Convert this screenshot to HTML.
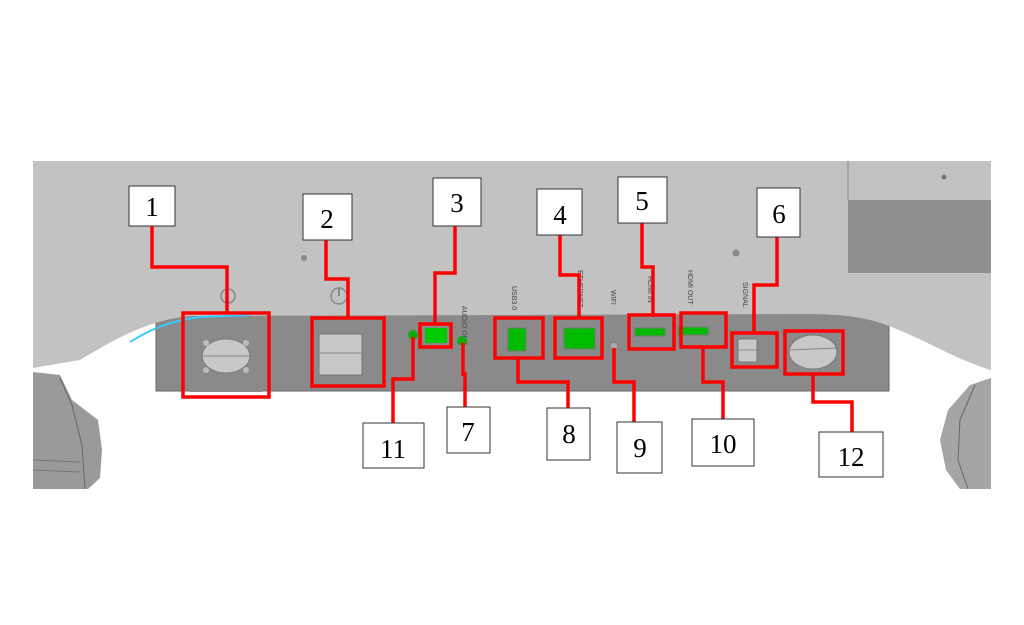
<!DOCTYPE html>
<html><head><meta charset="utf-8"><style>
html,body{margin:0;padding:0;background:#fff;width:1024px;height:625px;overflow:hidden}
svg{display:block}
.n{font-family:"Liberation Serif",serif;font-size:27px;fill:#000;text-anchor:middle}
.s{font-family:"Liberation Sans",sans-serif;font-size:7px;fill:#444}
.lb{fill:#fff;stroke:#333;stroke-width:1}
.r{fill:none;stroke:#f00;stroke-width:3.5}
</style></head><body>
<svg width="1024" height="625" viewBox="0 0 1024 625">
<!-- wheels -->
<path d="M33,372 L60,375 L72,400 L98,420 L102,450 L100,478 L88,489 L33,489 Z" fill="#9a9a9a"/>
<path d="M60,378 L72,405 L82,445 L85,489" fill="none" stroke="#666" stroke-width="1"/>
<path d="M33,460 L80,462 M33,470 L80,472" stroke="#777" stroke-width="1"/>
<path d="M991,378 L970,385 L948,410 L940,440 L946,470 L960,489 L991,489 Z" fill="#a5a5a5"/>
<path d="M975,385 L960,420 L958,460 L968,489" fill="none" stroke="#666"/>
<!-- panel -->
<rect x="156" y="312" width="733" height="79" fill="#8a8a8a" stroke="#666"/>
<!-- body -->
<path d="M33,161 H991 V370 C950,358 910,330 870,320 C850,315 830,314 800,314 L190,316 C150,320 120,336 80,360 L33,368 Z" fill="#c2c2c2"/>
<path d="M130,342 C150,330 165,322 200,317 L250,315" fill="none" stroke="#3cf" stroke-width="2"/>
<!-- top right dark block -->
<rect x="848" y="200" width="143" height="73" fill="#8f8f8f"/>
<line x1="848" y1="161" x2="848" y2="200" stroke="#888"/>
<circle cx="944" cy="177" r="2.5" fill="#777"/>
<circle cx="304" cy="258" r="3" fill="#888"/>
<circle cx="736" cy="253" r="3.5" fill="#888"/>
<!-- icons -->
<circle cx="228" cy="296" r="7" fill="none" stroke="#888" stroke-width="1.5"/>
<circle cx="339" cy="296" r="8" fill="none" stroke="#888" stroke-width="1.5"/>
<line x1="339" y1="287" x2="339" y2="296" stroke="#888" stroke-width="2"/>
<!-- rotated small text -->
<text class="s" transform="translate(462,306) rotate(90)">AUDIO OUT</text>
<text class="s" transform="translate(512,286) rotate(90)">USB3.0</text>
<text class="s" transform="translate(578,270) rotate(90)">ETHERNET</text>
<text class="s" transform="translate(611,290) rotate(90)">WIFI</text>
<text class="s" transform="translate(648,276) rotate(90)">HDMI IN</text>
<text class="s" transform="translate(688,270) rotate(90)">HDMI OUT</text>
<text class="s" transform="translate(743,282) rotate(90)">SIGNAL</text>
<!-- connectors -->
<rect x="190" y="320" width="72" height="72" fill="#8a8a8a"/>
<ellipse cx="226" cy="356" rx="24" ry="17" fill="#c8c8c8" stroke="#777"/>
<line x1="202" y1="356" x2="250" y2="356" stroke="#888"/>
<circle cx="206" cy="343" r="3" fill="#bbb"/><circle cx="246" cy="343" r="3" fill="#bbb"/>
<circle cx="206" cy="370" r="3" fill="#bbb"/><circle cx="246" cy="370" r="3" fill="#bbb"/>
<rect x="319" y="334" width="43" height="41" fill="#c8c8c8" stroke="#777"/>
<line x1="319" y1="353" x2="362" y2="353" stroke="#888"/>
<circle cx="413" cy="335" r="5" fill="#1a1"/>
<rect x="425" y="328" width="22" height="15" fill="#0c0"/>
<circle cx="462" cy="341" r="5" fill="#1a1"/>
<rect x="508" y="328" width="18" height="23" fill="#0b0" stroke="#777"/>
<rect x="564" y="328" width="31" height="21" fill="#0b0" stroke="#777"/>
<circle cx="614" cy="346" r="4" fill="#aaa" stroke="#777"/>
<rect x="635" y="328" width="30" height="8" fill="#0b0" stroke="#777"/>
<rect x="678" y="327" width="30" height="8" fill="#0b0" stroke="#777"/>
<rect x="738" y="339" width="19" height="23" fill="#c8c8c8" stroke="#777"/>
<line x1="738" y1="350" x2="757" y2="350" stroke="#888"/>
<ellipse cx="813" cy="352" rx="24" ry="17" fill="#c8c8c8" stroke="#777"/>
<line x1="789" y1="350" x2="837" y2="348" stroke="#888"/>
<!-- red boxes -->
<rect class="r" x="183" y="313" width="86" height="84"/>
<rect class="r" x="312" y="318" width="72" height="68"/>
<rect class="r" x="420" y="324" width="31" height="23"/>
<rect class="r" x="495" y="318" width="48" height="40"/>
<rect class="r" x="555" y="318" width="47" height="40"/>
<rect class="r" x="629" y="315" width="45" height="34"/>
<rect class="r" x="681" y="313" width="45" height="34"/>
<rect class="r" x="732" y="333" width="45" height="34"/>
<rect class="r" x="785" y="331" width="58" height="43"/>
<!-- leader lines -->
<g class="r">
<polyline points="152,226 152,267 227,267 227,313"/>
<polyline points="326,240 326,279 348,279 348,318"/>
<polyline points="455,226 455,273 435,273 435,324"/>
<polyline points="413,337 413,379 393,379 393,423"/>
<polyline points="463,343 463,374 465,374 465,407"/>
<polyline points="518,358 518,382 568,382 568,408"/>
<polyline points="560,235 560,275 579,275 579,318"/>
<polyline points="614,348 614,382 634,382 634,422"/>
<polyline points="642,223 642,267 653,267 653,315"/>
<polyline points="703,347 703,382 723,382 723,420"/>
<polyline points="777,237 777,285 754,285 754,333"/>
<polyline points="813,374 813,402 852,402 852,432"/>
</g>
<!-- labels -->
<rect class="lb" x="129" y="186" width="46" height="40"/><text class="n" x="152" y="216">1</text>
<rect class="lb" x="303" y="194" width="49" height="46"/><text class="n" x="327" y="228">2</text>
<rect class="lb" x="433" y="178" width="48" height="48"/><text class="n" x="457" y="212">3</text>
<rect class="lb" x="537" y="189" width="45" height="46"/><text class="n" x="560" y="224">4</text>
<rect class="lb" x="618" y="177" width="49" height="46"/><text class="n" x="642" y="210">5</text>
<rect class="lb" x="757" y="188" width="43" height="49"/><text class="n" x="779" y="223">6</text>
<rect class="lb" x="447" y="407" width="43" height="46"/><text class="n" x="468" y="441">7</text>
<rect class="lb" x="547" y="408" width="43" height="52"/><text class="n" x="569" y="443">8</text>
<rect class="lb" x="617" y="422" width="45" height="51"/><text class="n" x="640" y="457">9</text>
<rect class="lb" x="692" y="419" width="62" height="47"/><text class="n" x="723" y="453">10</text>
<rect class="lb" x="363" y="423" width="61" height="45"/><text class="n" x="393" y="458">11</text>
<rect class="lb" x="819" y="432" width="64" height="45"/><text class="n" x="851" y="466">12</text>
</svg>
</body></html>
